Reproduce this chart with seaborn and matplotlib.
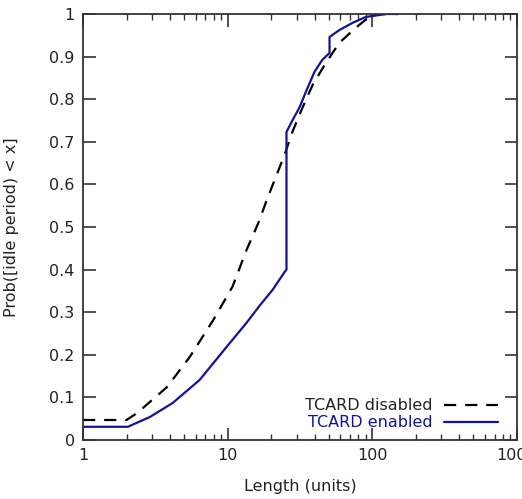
import matplotlib
matplotlib.use("Agg")
import matplotlib.pyplot as plt
import matplotlib.ticker as mticker
import seaborn as sns
import numpy as np

# Data
disabled_x = [1, 2, 2.36, 3.8, 5.47, 7.9, 10.8, 13.5, 16.6, 18.6, 21.1, 24.7, 28,
              32.4, 38.6, 46.7, 59, 77.6, 95, 110, 150]
disabled_y = [0.047, 0.047, 0.063, 0.124, 0.195, 0.28, 0.36, 0.446, 0.516, 0.563,
              0.61, 0.669, 0.723, 0.775, 0.833, 0.88, 0.932, 0.969, 0.993, 1.0, 1.0]

enabled_x = [1, 2.04, 2.9, 4.17, 6.4, 9.8, 13.5, 16.6, 20.4, 24.7, 25.5, 25.5, 28,
             31.3, 35, 39.8, 45, 49, 50.6, 50.6, 59, 72.8, 90, 125, 150]
enabled_y = [0.031, 0.031, 0.054, 0.087, 0.141, 0.218, 0.275, 0.315, 0.352, 0.394,
             0.40, 0.723, 0.75, 0.78, 0.82, 0.864, 0.892, 0.904, 0.908, 0.946, 0.962,
             0.979, 0.993, 1.0, 1.0]

x_ticks = [1, 10, 100, 1000]
x_tick_labels = ["1", "10", "100", "1000"]
y_ticks = [0, 0.1, 0.2, 0.3, 0.4, 0.5, 0.6, 0.7, 0.8, 0.9, 1]
y_tick_labels = ["0", "0.1", "0.2", "0.3", "0.4", "0.5", "0.6", "0.7", "0.8", "0.9", "1"]

sns.set_theme(style="ticks")
plt.rcParams['font.family'] = ['DejaVu Sans']
FS = 11.5
text_color = "#222222"
blue = "#12129c"

fig = plt.figure(figsize=(5.22, 4.99), dpi=100)
ax = fig.add_axes([83/522, 59/499, 434/522, 426/499])

sns.lineplot(x=disabled_x, y=disabled_y, estimator=None, sort=False, ax=ax,
             color="black", lw=1.6, dashes=False, label="TCARD disabled")
ax.lines[-1].set_dashes([5.5, 4])
sns.lineplot(x=enabled_x, y=enabled_y, estimator=None, sort=False, ax=ax,
             color=blue, lw=1.6, label="TCARD enabled")

ax.set_xscale("log")
ax.set_xlim(1, 1000)
ax.set_ylim(0, 1)
ax.set_xticks(x_ticks)
ax.set_xticklabels(x_tick_labels)
ax.xaxis.set_minor_locator(mticker.LogLocator(base=10, subs=np.arange(2, 10)))
ax.xaxis.set_minor_formatter(mticker.NullFormatter())
ax.set_yticks(y_ticks)
ax.set_yticklabels(y_tick_labels)

ax.tick_params(axis="both", which="major", direction="in", length=9, width=1.2,
               top=True, right=True, labelsize=FS, colors="#333333",
               labelcolor=text_color, pad=6)
ax.tick_params(axis="x", which="minor", direction="in", length=4.5, width=1.0,
               top=True, bottom=True, colors="#333333")
for s in ax.spines.values():
    s.set_linewidth(1.3)
    s.set_color("#333333")

ax.set_xlabel("Length (units)", fontsize=FS, color=text_color, labelpad=11)
ax.set_ylabel("Prob([idle period) < x]", fontsize=FS, color=text_color, labelpad=22)

leg = ax.legend(loc="lower right", bbox_to_anchor=(0.978, 0.0), frameon=False,
                markerfirst=False, fontsize=FS, handlelength=3.4, handletextpad=0.7,
                labelspacing=0.12, borderaxespad=0.2)
leg.get_texts()[0].set_color(text_color)
leg.get_texts()[1].set_color(blue)
leg.legend_handles[0].set_dashes([5.5, 4])

fig.savefig("out.png", dpi=100)
